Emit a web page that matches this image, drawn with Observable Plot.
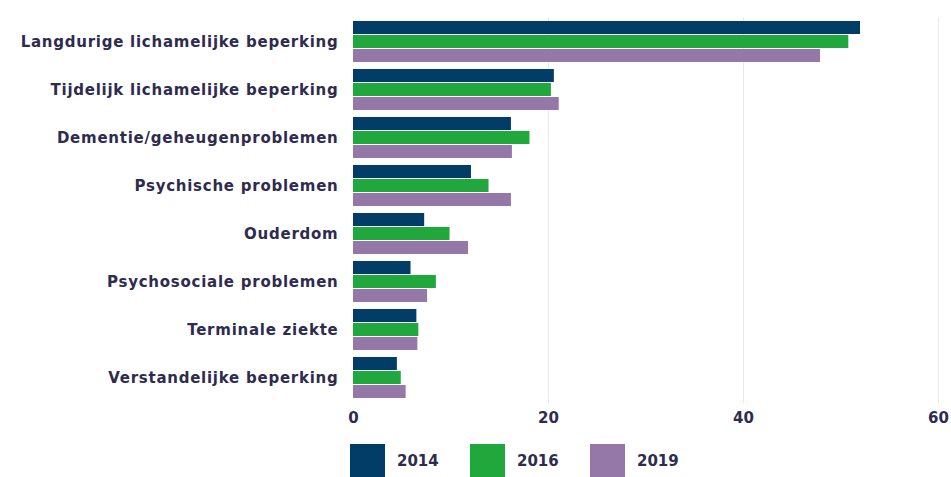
<!DOCTYPE html>
<html><head><meta charset="utf-8">
<script src="https://cdn.jsdelivr.net/npm/d3@7"></script>
<script src="https://cdn.jsdelivr.net/npm/@observablehq/plot@0.6"></script>
<style>
body{margin:0;background:#fff;}
#chart{position:relative;width:951px;height:477px;overflow:hidden;background:#fff}
#chart svg{position:absolute;left:0;top:0}
#chart svg g[aria-label="fy-axis tick label"] text{letter-spacing:0.75px}
.item{position:absolute;top:445px;height:32px;display:flex;align-items:center;font:bold 15px "DejaVu Sans",sans-serif;color:#2e2b4f}
.sw{width:35px;height:34px;margin-right:12px}
</style></head><body><div id="chart"></div>
<script>
const categories = [
  "Langdurige lichamelijke beperking",
  "Tijdelijk lichamelijke beperking",
  "Dementie/geheugenproblemen",
  "Psychische problemen",
  "Ouderdom",
  "Psychosociale problemen",
  "Terminale ziekte",
  "Verstandelijke beperking"
];
const years = ["2014", "2016", "2019"];
const v2014 = [52.0, 20.6, 16.2, 12.1, 7.3, 5.9, 6.5, 4.5];
const v2016 = [50.8, 20.3, 18.1, 13.9, 9.9, 8.5, 6.7, 4.9];
const v2019 = [47.9, 21.1, 16.3, 16.2, 11.8, 7.6, 6.6, 5.4];
const xTicks = [0, 20, 40, 60];
const colors = ["#023d68", "#21a83c", "#9678a8"];

const series = [v2014, v2016, v2019];
const data = categories.flatMap((c, i) => years.map((y, j) => ({category: c, year: y, value: series[j][i]})));

const plot = Plot.plot({
  width: 951, height: 432,
  marginLeft: 353, marginRight: 13, marginTop: 18, marginBottom: 30,
  style: {fontFamily: "'DejaVu Sans', sans-serif", fontWeight: "bold", fontSize: "15px", color: "#2e2b4f", background: "#fff", overflow: "visible"},
  x: {domain: [0, 60], ticks: xTicks, tickSize: 0, tickPadding: 12, label: null},
  y: {domain: years, axis: null, padding: 0.06},
  fy: {domain: categories, padding: 0.08, tickSize: 0, tickPadding: 15, label: null},
  color: {domain: years, range: colors},
  marks: [
    Plot.ruleX(xTicks.slice(1), {stroke: "#e9e8f0", insetTop: -3, insetBottom: -3}),
    Plot.barX(data, {x: "value", y: "year", fy: "category", fill: "year"})
  ]
});
const chart = document.getElementById("chart");
chart.appendChild(plot);
const lx = [350, 470, 590];
years.forEach((y, j) => {
  const d = document.createElement("div");
  d.className = "item";
  d.style.left = lx[j] + "px";
  d.innerHTML = `<span class="sw" style="background:${colors[j]}"></span><span>${y}</span>`;
  chart.appendChild(d);
});
</script></body></html>
